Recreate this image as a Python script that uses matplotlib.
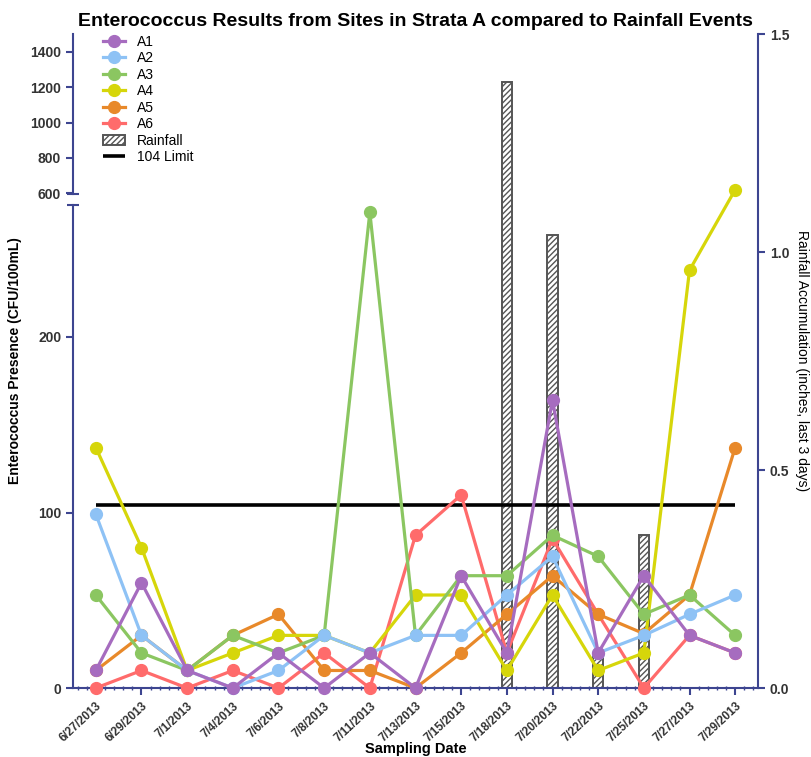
import numpy as np
import matplotlib
matplotlib.use("Agg")
import matplotlib.pyplot as plt
from matplotlib.patches import Rectangle
from matplotlib.legend_handler import HandlerPatch
from matplotlib.ticker import FixedLocator, MultipleLocator, NullLocator, FormatStrFormatter

plt.rcParams["font.family"] = ["Liberation Sans", "DejaVu Sans"]

# ---- data ----
dates = ["6/27/2013", "6/29/2013", "7/1/2013", "7/4/2013", "7/6/2013", "7/8/2013",
         "7/11/2013", "7/13/2013", "7/15/2013", "7/18/2013", "7/20/2013", "7/22/2013",
         "7/25/2013", "7/27/2013", "7/29/2013"]
a1 = [10, 60, 10, 0, 20, 0, 20, 0, 64, 20, 164, 20, 64, 30, 20]
a2 = [99, 30, 10, 0, 10, 30, 20, 30, 30, 53, 75, 20, 30, 42, 53]
a3 = [53, 20, 10, 30, 20, 30, 271, 30, 64, 64, 87, 75, 42, 53, 30]
a4 = [137, 80, 10, 20, 30, 30, 20, 53, 53, 10, 53, 10, 20, 238, 620]
a5 = [10, 30, 10, 30, 42, 10, 10, 0, 20, 42, 64, 42, 31, 53, 137]
a6 = [0, 10, 0, 10, 0, 20, 0, 87, 110, 20, 85, 42, 0, 30, 20]
rainfall = [0, 0, 0, 0, 0, 0, 0, 0, 0, 1.39, 1.04, 0.08, 0.35, 0, 0]
limit = 104

series = [("A1", a1, "#A66CBF"), ("A2", a2, "#8EC2F5"), ("A3", a3, "#8BC661"),
          ("A4", a4, "#D6D60A"), ("A5", a5, "#E8892A"), ("A6", a6, "#FF6B6B")]

navy = "#3D4590"
txt = "#333333"

# broken left axis: piecewise linear mapping (lower 0-275, upper 600-1500)
brk_v = np.array([-1000.0, 0, 275, 600, 1500, 10000])
brk_t = np.array([-1753.0, 0, 482, 494, 653, 2153])


def fwd(v):
    return np.interp(v, brk_v, brk_t)


def inv(t):
    return np.interp(t, brk_t, brk_v)


def small_square(legend, orig_handle, xdescent, ydescent, width, height, fontsize):
    s = height * 0.75
    return Rectangle((width / 2 - xdescent - s / 2, height / 2 - ydescent - s / 2), s, s)


fig = plt.figure(figsize=(8.12, 7.57), dpi=100)
ax = fig.add_axes([0.0899, 0.0911, 0.8436, 0.8639])
ax2 = ax.twinx()

x = np.arange(len(dates))

# rainfall bars on right axis
rx = [i for i, r in enumerate(rainfall) if r > 0]
rv = [r for r in rainfall if r > 0]
bars = ax2.bar(rx, rv, width=0.22, facecolor="white", edgecolor="#555555",
               hatch="//////", linewidth=1.4, label="Rainfall")
ax2.set_ylim(0, 1.5)
ax2.yaxis.set_major_locator(FixedLocator([0, 0.5, 1.0, 1.5]))
ax2.yaxis.set_major_formatter(FormatStrFormatter("%.1f"))
ax2.tick_params(axis="y", colors=navy, labelcolor=txt, length=5, width=1.5,
                labelsize=10)
for lab in ax2.get_yticklabels():
    lab.set_fontweight("bold")
ax2.set_ylabel("Rainfall Accumulation (inches, last 3 days)", rotation=270,
               labelpad=14, fontsize=10)
for s in ["top", "left", "bottom"]:
    ax2.spines[s].set_visible(False)
ax2.spines["right"].set_color(navy)
ax2.spines["right"].set_linewidth(1.5)
ax2.spines["right"].set_bounds(0, 1.5)

ax.set_zorder(ax2.get_zorder() + 1)
ax.patch.set_visible(False)

handles = []
for i, (name, vals, col) in enumerate(series):
    h, = ax.plot(x, vals, color=col, lw=2.3, marker="o", ms=8.5, mec=col,
                 label=name, zorder=10 - i, clip_on=False)
    handles.append(h)
lim_h = ax.hlines(limit, x[0], x[-1], color="black", lw=2.6, zorder=3,
                  label="104 Limit")

ax.set_yscale("function", functions=(fwd, inv))
ax.set_ylim(0, 1500)
ax.set_xlim(-0.5, len(dates) - 0.5)
ax.yaxis.set_major_locator(FixedLocator([0, 100, 200, 600, 800, 1000, 1200, 1400]))
ax.yaxis.set_minor_locator(NullLocator())
ax.yaxis.set_major_formatter(FormatStrFormatter("%d"))
ax.tick_params(axis="y", colors=navy, labelcolor=txt, length=5, width=1.5,
               labelsize=10)

ax.set_xticks(x)
ax.set_xticklabels(dates, rotation=43, ha="right", rotation_mode="anchor")
ax.xaxis.set_minor_locator(MultipleLocator(0.2))
ax.tick_params(axis="x", which="major", colors=navy, labelcolor=txt, length=5,
               width=1.5, labelsize=8.5)
ax.tick_params(axis="x", which="minor", colors=navy, length=2.5, width=1,
               direction="inout")
for lab in ax.get_xticklabels() + ax.get_yticklabels():
    lab.set_fontweight("bold")

for s in ["top", "right", "left"]:
    ax.spines[s].set_visible(False)
ax.spines["bottom"].set_color(navy)
ax.spines["bottom"].set_linewidth(1.5)

# broken left spine
yt = ax.get_yaxis_transform()
ax.plot([0, 0], [0, 275], transform=yt, color=navy, lw=1.5, clip_on=False,
        marker="_", ms=8, mew=1.5, markevery=[1], zorder=20)
ax.plot([0, 0], [594, 1500], transform=yt, color=navy, lw=1.5, clip_on=False,
        marker="_", ms=8, mew=1.5, markevery=[0], zorder=20)

ax.set_ylabel("Enterococcus Presence (CFU/100mL)", fontsize=10, fontweight="bold",
              labelpad=6)
ax.set_xlabel("Sampling Date", fontsize=10.5, fontweight="bold")
ax.xaxis.set_label_coords(0.5, -0.083)
ax.set_title("Enterococcus Results from Sites in Strata A compared to Rainfall Events",
             fontsize=14, fontweight="bold", pad=6)

leg = ax.legend(handles + [bars, lim_h], [h.get_label() for h in handles] + ["Rainfall", "104 Limit"],
                loc="upper left", bbox_to_anchor=(0.025, 1.018), frameon=False,
                fontsize=10, handlelength=1.6, labelspacing=0.18, handletextpad=0.9,
                handler_map={type(bars.patches[0]): HandlerPatch(patch_func=small_square)})

fig.savefig("out.png", dpi=100)
